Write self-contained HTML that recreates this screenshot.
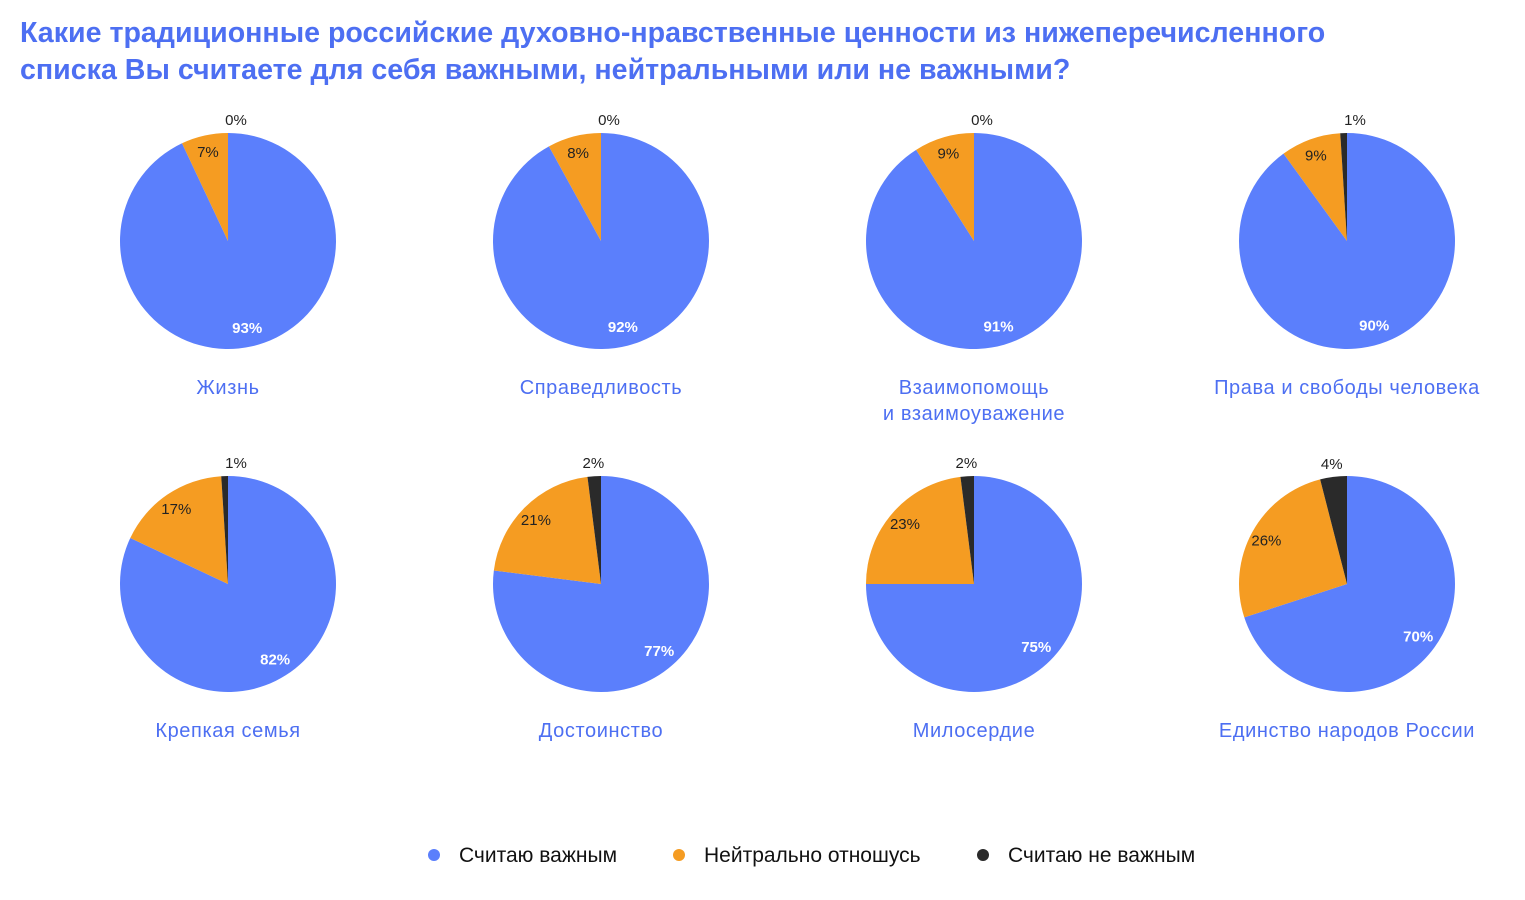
<!DOCTYPE html>
<html><head><meta charset="utf-8">
<style>
body{margin:0;width:1525px;height:900px;background:#fff;font-family:"Liberation Sans","Noto Sans CJK SC",sans-serif;overflow:hidden;position:relative}
#title{position:absolute;left:20px;top:15px;font-size:28.6px;font-weight:bold;color:#4d6ff2;line-height:37px;margin:0;white-space:nowrap}
svg{position:absolute;left:0;top:0}
</style></head><body>
<h1 id="title">Какие традиционные российские духовно-нравственные ценности из нижеперечисленного<br>списка Вы считаете для себя важными, нейтральными или не важными?</h1>
<svg id="chart" width="1525" height="900"></svg>
<script>
const categories=[["Жизнь"],["Справедливость"],["Взаимопомощь","и взаимоуважение"],["Права и свободы человека"],["Крепкая семья"],["Достоинство"],["Милосердие"],["Единство народов России"]];
const important=[93,92,91,90,82,77,75,70];
const neutral=[7,8,9,9,17,21,23,26];
const notImportant=[0,0,0,1,1,2,2,4];
const seriesNames=["Считаю важным","Нейтрально отношусь","Считаю не важным"];
const colors=["#5b7ffc","#f59c22","#2a2a2a"];
const NS="http://www.w3.org/2000/svg";
const svg=document.getElementById('chart');
function mk(t,a){const e=document.createElementNS(NS,t);for(const k in a)e.setAttribute(k,a[k]);svg.appendChild(e);return e;}
const cx0=228,dx=373,cyRows=[241,584],R=108;
function pt(cx,cy,frac,r){const a=frac*2*Math.PI;return [cx+r*Math.sin(a),cy-r*Math.cos(a)];}
categories.forEach((cat,i)=>{
  const cx=cx0+(i%4)*dx, cy=cyRows[Math.floor(i/4)];
  const vals=[important[i],neutral[i],notImportant[i]];
  const tot=vals.reduce((a,b)=>a+b,0);
  let acc=0;
  vals.forEach((v,s)=>{
    const f0=acc/tot,f1=(acc+v)/tot;acc+=v;
    if(v>0){
      const [x0,y0]=pt(cx,cy,f0,R),[x1,y1]=pt(cx,cy,f1,R);
      const large=(f1-f0)>0.5?1:0;
      const p=mk('path',{d:`M${cx},${cy}L${x0},${y0}A${R},${R} 0 ${large} 1 ${x1},${y1}Z`,fill:colors[s]});
      
      
    }
    const mid=(f0+f1)/2;
    const r=s===2?122:(s===0?88:92);
    let [lx,ly]=pt(cx,cy,mid,r);
    if(s===2&&v<=1) lx=cx+8;
    const t=mk('text',{x:lx,y:ly+6,'text-anchor':'middle','font-size':15,fill:s===0?'#fff':'#222','font-weight':s===0?'bold':'normal'});
    t.textContent=v+'%';
    
    
  });
  cat.forEach((line,j)=>{
    const t=mk('text',{x:cx,y:cy+153+j*26,'text-anchor':'middle','font-size':20,'letter-spacing':0.6,fill:'#4d6ff2'});
    t.textContent=line;
    
    
  });
});
const legX=[434,679,983];
seriesNames.forEach((n,s)=>{
  const c=mk('circle',{cx:legX[s],cy:855,r:6,fill:colors[s]});
  
  
  const t=mk('text',{x:legX[s]+25,y:862,'font-size':21,fill:'#111'});
  t.textContent=n;
  
  
});
</script>
</body></html>
